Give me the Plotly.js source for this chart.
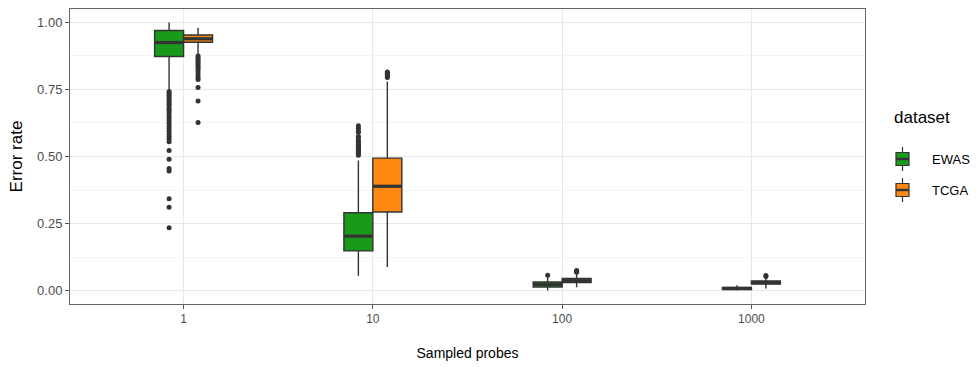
<!DOCTYPE html>
<html>
<head>
<meta charset="utf-8">
<script src="https://cdn.plot.ly/plotly-3.0.1.min.js"></script>
<style>
  html, body { margin: 0; padding: 0; background: #fff; }
  #chart { width: 978px; height: 367px; }
</style>
</head>
<body>
<div id="chart"></div>
<script>
// Sampled probe counts (x categories)
const categories = ['1', '10', '100', '1000'];

// Dataset names and fill colours
const datasets = ['EWAS', 'TCGA'];
const fills = ['#1a9a1a', '#ff8811'];

// EWAS error-rate summary per probe count
const ewasQ1 = [0.873, 0.148, 0.013, 0.004];
const ewasMedian = [0.925, 0.203, 0.022, 0.008];
const ewasQ3 = [0.970, 0.290, 0.032, 0.012];
const ewasLower = [0.750, 0.055, 0.000, 0.000];
const ewasUpper = [1.000, 0.485, 0.050, 0.020];
const ewasOutliers = [
  [0.742, 0.735, 0.728, 0.720, 0.712, 0.705, 0.697, 0.690, 0.680, 0.672, 0.665, 0.655,
   0.645, 0.635, 0.625, 0.615, 0.605, 0.595, 0.585, 0.575, 0.565, 0.555, 0.522, 0.490,
   0.455, 0.446, 0.342, 0.311, 0.234],
  [0.505, 0.510, 0.515, 0.520, 0.525, 0.530, 0.535, 0.540, 0.545, 0.550, 0.555, 0.560,
   0.570, 0.575, 0.590, 0.595, 0.605, 0.615],
  [0.057],
  []
];

// TCGA error-rate summary per probe count
const tcgaQ1 = [0.926, 0.293, 0.030, 0.024];
const tcgaMedian = [0.939, 0.389, 0.037, 0.030];
const tcgaQ3 = [0.953, 0.494, 0.045, 0.036];
const tcgaLower = [0.881, 0.088, 0.012, 0.008];
const tcgaUpper = [0.980, 0.780, 0.064, 0.050];
const tcgaOutliers = [
  [0.875, 0.868, 0.862, 0.855, 0.848, 0.840, 0.832, 0.825, 0.815, 0.805, 0.795, 0.787,
   0.757, 0.707, 0.627],
  [0.795, 0.800, 0.805, 0.810, 0.815],
  [0.068, 0.072, 0.075],
  [0.053, 0.056]
];

// Geometry of dodged boxes (in category units)
const boxWidth = 0.153;
const dodge = boxWidth / 2;
const lineColor = '#333333';

const positions = categories.map((_, i) => i + 1);

function boxTrace(name, fill, offset, q1, med, q3, lo, hi) {
  return {
    type: 'box',
    name: name,
    x: positions.map(p => p + offset),
    q1: q1, median: med, q3: q3, lowerfence: lo, upperfence: hi,
    width: boxWidth,
    boxpoints: false,
    whiskerwidth: 0,
    fillcolor: fill,
    line: { color: lineColor, width: 1.4 },
    hoverinfo: 'y',
    showlegend: false
  };
}

function medianTrace(offset, med) {
  const xs = [], ys = [];
  positions.forEach((p, i) => {
    xs.push(p + offset - boxWidth / 2, p + offset + boxWidth / 2, null);
    ys.push(med[i], med[i], null);
  });
  return {
    type: 'scatter', mode: 'lines', x: xs, y: ys,
    line: { color: lineColor, width: 3.2 },
    hoverinfo: 'skip', showlegend: false
  };
}

function outlierTrace(offset, outs) {
  const xs = [], ys = [];
  outs.forEach((vals, i) => vals.forEach(v => { xs.push(positions[i] + offset); ys.push(v); }));
  return {
    type: 'scatter', mode: 'markers', x: xs, y: ys,
    marker: { color: lineColor, size: 5 },
    hoverinfo: 'y', showlegend: false
  };
}

const data = [
  boxTrace(datasets[0], fills[0], -dodge, ewasQ1, ewasMedian, ewasQ3, ewasLower, ewasUpper),
  boxTrace(datasets[1], fills[1], dodge, tcgaQ1, tcgaMedian, tcgaQ3, tcgaLower, tcgaUpper),
  medianTrace(-dodge, ewasMedian),
  medianTrace(dodge, tcgaMedian),
  outlierTrace(-dodge, ewasOutliers),
  outlierTrace(dodge, tcgaOutliers)
];

// Plot area in pixels, used to place the boxplot-style legend keys
const W = 978, H = 367;
const M = { l: 70, r: 113, t: 9, b: 63 };
const pw = W - M.l - M.r, ph = H - M.t - M.b;
const px = x => (x - M.l) / pw;
const py = y => (H - M.b - y) / ph;

const shapes = [];
const annotations = [];
const font = 'Liberation Sans, Arial, sans-serif';

annotations.push({
  xref: 'paper', yref: 'paper', x: px(892), y: py(117), xanchor: 'left', yanchor: 'middle',
  text: 'dataset', showarrow: false, font: { size: 17, color: '#000', family: font }
});

datasets.forEach((name, i) => {
  const cy = 159 + i * 31;
  const x0 = 896, x1 = 909, xc = (x0 + x1) / 2;
  shapes.push({ type: 'line', xref: 'paper', yref: 'paper',
    x0: px(xc), x1: px(xc), y0: py(cy - 12), y1: py(cy + 12),
    line: { color: lineColor, width: 1.2 } });
  shapes.push({ type: 'rect', xref: 'paper', yref: 'paper',
    x0: px(x0), x1: px(x1), y0: py(cy - 6.5), y1: py(cy + 6.5),
    fillcolor: fills[i], line: { color: lineColor, width: 1.2 } });
  shapes.push({ type: 'line', xref: 'paper', yref: 'paper',
    x0: px(x0), x1: px(x1), y0: py(cy), y1: py(cy),
    line: { color: lineColor, width: 2.4 } });
  annotations.push({
    xref: 'paper', yref: 'paper', x: px(930), y: py(cy), xanchor: 'left', yanchor: 'middle',
    text: name, showarrow: false, font: { size: 13, color: '#000', family: font }
  });
});

const layout = {
  width: W, height: H,
  margin: M,
  paper_bgcolor: '#ffffff',
  plot_bgcolor: '#ffffff',
  boxmode: 'overlay',
  showlegend: false,
  font: { family: font, color: '#4d4d4d' },
  xaxis: {
    range: [0.4, categories.length + 0.6],
    tickvals: positions,
    ticktext: categories,
    tickfont: { size: 12, color: '#4d4d4d' },
    ticks: 'outside', ticklen: 4, tickcolor: '#555',
    showgrid: true, gridcolor: '#e8e8e8', gridwidth: 1.2,
    zeroline: false,
    showline: true, mirror: true, linecolor: '#666', linewidth: 1,
    title: { text: 'Sampled probes', font: { size: 14, color: '#000' }, standoff: 22 }
  },
  yaxis: {
    range: [-0.05, 1.05],
    tickvals: [0, 0.25, 0.5, 0.75, 1],
    ticktext: ['0.00', '0.25', '0.50', '0.75', '1.00'],
    tickfont: { size: 13, color: '#4d4d4d' },
    ticks: 'outside', ticklen: 4, tickcolor: '#555',
    showgrid: true, gridcolor: '#e8e8e8', gridwidth: 1.2,
    minor: { tickvals: [0.125, 0.375, 0.625, 0.875], showgrid: true, gridcolor: '#f3f3f3', gridwidth: 0.8 },
    zeroline: false,
    showline: true, mirror: true, linecolor: '#666', linewidth: 1,
    title: { text: 'Error rate', font: { size: 17, color: '#000' }, standoff: 10 }
  },
  shapes: shapes,
  annotations: annotations
};

Plotly.newPlot('chart', data, layout, { displayModeBar: false, staticPlot: true });
</script>
</body>
</html>
